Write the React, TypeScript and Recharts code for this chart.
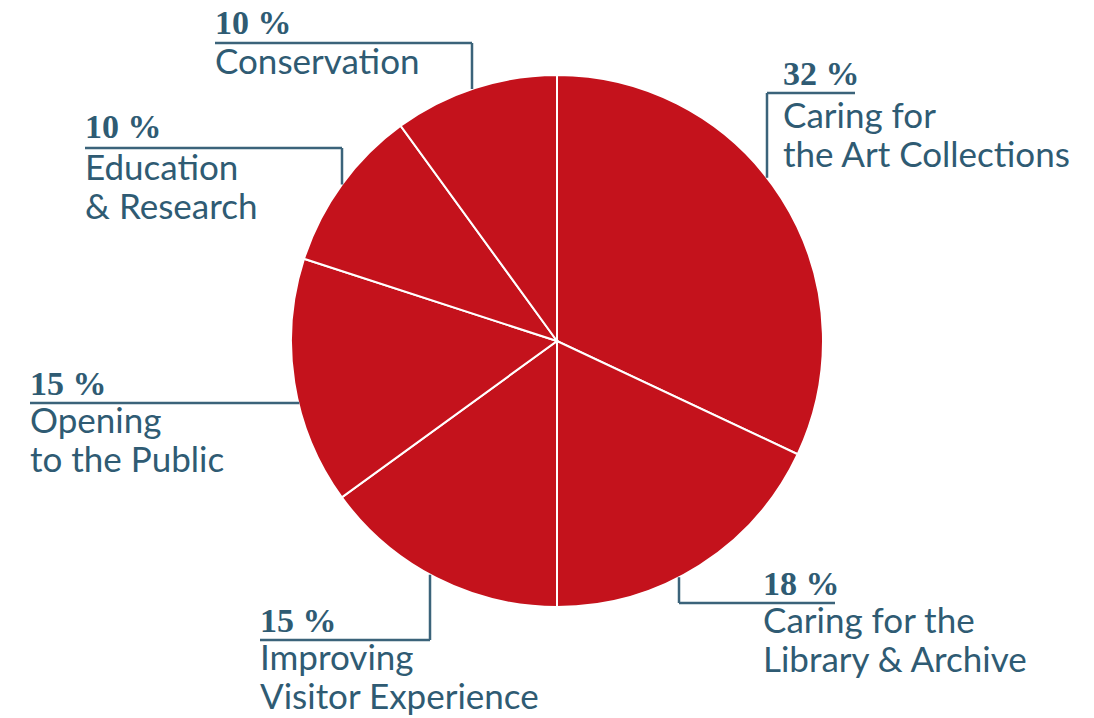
import React from 'react';
import { PieChart, Pie, Cell } from 'recharts';

// shares of spending, clockwise from the top
const categories = [
  'Caring for\nthe Art Collections',
  'Caring for the\nLibrary & Archive',
  'Improving\nVisitor Experience',
  'Opening\nto the Public',
  'Education\n& Research',
  'Conservation',
];
const shares = [32, 18, 15, 15, 10, 10];

const chartData = categories.map((name, i) => ({ name, value: shares[i] }));

const INK = '#2f5b73';
const LINE = '#3b637a';

// where each callout sits: leader is vertical at x (to barY) or horizontal at y
const layout = [
  { kind: 'v', x: 767, barY: 93, barFrom: 767, barTo: 855, textX: 783, pctY: 85, lineY: 128 },
  { kind: 'v', x: 679, barY: 603, barFrom: 679, barTo: 835, textX: 763, pctY: 595, lineY: 633 },
  { kind: 'v', x: 430, barY: 640, barFrom: 260, barTo: 430, textX: 260, pctY: 632, lineY: 670 },
  { kind: 'h', x: 0, barY: 403, barFrom: 30, barTo: 0, textX: 30, pctY: 395, lineY: 433 },
  { kind: 'v', x: 342, barY: 148, barFrom: 85, barTo: 342, textX: 85, pctY: 138, lineY: 180 },
  { kind: 'v', x: 472, barY: 43, barFrom: 215, barTo: 472, textX: 215, pctY: 34, lineY: 74 },
];

const renderLabel = (props: any) => {
  const { cx, cy, outerRadius, index, value, name } = props;
  const l = layout[index];
  let path = '';
  if (l.kind === 'v') {
    const dx = l.x - cx;
    const dy = Math.sqrt(Math.max(outerRadius * outerRadius - dx * dx, 0));
    const edgeY = l.barY < cy ? cy - dy : cy + dy;
    path = `M${l.barFrom},${l.barY} L${l.barTo},${l.barY} M${l.x},${l.barY} L${l.x},${edgeY}`;
  } else {
    const dy = l.barY - cy;
    const dx = Math.sqrt(Math.max(outerRadius * outerRadius - dy * dy, 0));
    path = `M${l.barFrom},${l.barY} L${cx - dx + 1},${l.barY}`;
  }
  const lines = String(name).split('\n');
  return (
    <g key={`lbl-${index}`}>
      <path d={path} stroke={LINE} strokeWidth={2.5} fill="none" />
      <text
        x={l.textX}
        y={l.pctY}
        fill={INK}
        fontFamily="'Liberation Serif', serif"
        fontWeight={700}
        fontSize={34}
      >
        {value} %
      </text>
      {lines.map((t, i) => (
        <text
          key={i}
          x={l.textX}
          y={l.lineY + i * 39}
          fill={INK}
          fontFamily="Lato, sans-serif"
          fontSize={35}
        >
          {t}
        </text>
      ))}
    </g>
  );
};

const App: React.FC = () => {
  return (
    <div style={{ position: 'absolute', left: 0, top: 0, background: 'white' }}>
      <PieChart width={1094} height={718} margin={{ top: 0, right: 0, bottom: 0, left: 0 }}>
        <Pie
          data={chartData}
          dataKey="value"
          nameKey="name"
          cx={557}
          cy={341}
          outerRadius={266}
          startAngle={90}
          endAngle={-270}
          stroke="#ffffff"
          strokeWidth={2}
          label={renderLabel}
          labelLine={false}
          isAnimationActive={false}
        >
          {chartData.map((entry, index) => (
            <Cell key={`cell-${index}`} fill="#c4121c" />
          ))}
        </Pie>
      </PieChart>
    </div>
  );
};

export default App;
